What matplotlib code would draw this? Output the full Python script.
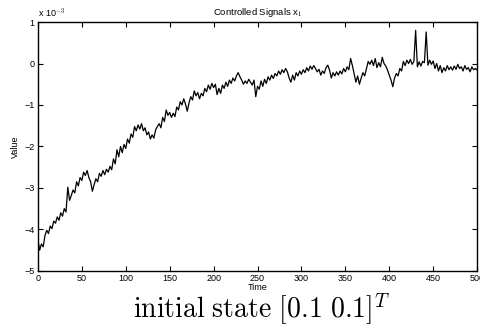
import numpy as np
import matplotlib.pyplot as plt

plt.rcParams['font.family'] = ['Liberation Sans', 'DejaVu Sans']
plt.rcParams['mathtext.fontset'] = 'cm'

# controlled signal x1, values in units of 1e-3, sampled every 2 time steps
time = np.arange(0, 501, 2)
x1 = [
    -4.25, -4.50, -4.35, -4.42, -4.15, -4.02, -4.10, -3.92, -3.98, -3.80,
    -3.85, -3.70, -3.78, -3.60, -3.68, -3.50, -3.58, -2.98, -3.30, -3.18,
    -3.05, -3.12, -2.85, -2.95, -2.75, -2.82, -2.62, -2.70, -2.58, -2.75,
    -2.85, -3.08, -2.92, -2.78, -2.85, -2.65, -2.72, -2.58, -2.68, -2.55,
    -2.62, -2.48, -2.56, -2.30, -2.42, -2.08, -2.25, -2.00, -2.15, -1.95,
    -2.05, -1.82, -1.92, -1.70, -1.78, -1.52, -1.62, -1.48, -1.58, -1.45,
    -1.62, -1.55, -1.72, -1.65, -1.82, -1.72, -1.80, -1.60, -1.52, -1.45,
    -1.55, -1.30, -1.40, -1.12, -1.25, -1.18, -1.30, -1.20, -1.28, -1.05,
    -1.12, -0.92, -1.00, -0.85, -0.98, -1.15, -0.95, -0.80, -0.88, -0.66,
    -0.78, -0.70, -0.85, -0.72, -0.78, -0.60, -0.68, -0.52, -0.62, -0.48,
    -0.58, -0.50, -0.75, -0.60, -0.72, -0.52, -0.60, -0.45, -0.55, -0.40,
    -0.48, -0.35, -0.42, -0.30, -0.22, -0.32, -0.40, -0.50, -0.42, -0.48,
    -0.38, -0.45, -0.52, -0.40, -0.80, -0.55, -0.62, -0.42, -0.55, -0.38,
    -0.48, -0.32, -0.40, -0.28, -0.36, -0.24, -0.30, -0.18, -0.26, -0.15,
    -0.22, -0.12, -0.20, -0.35, -0.45, -0.28, -0.40, -0.22, -0.30, -0.18,
    -0.26, -0.15, -0.22, -0.10, -0.18, -0.06, -0.14, -0.05, -0.12, -0.20,
    -0.14, -0.28, -0.18, -0.24, -0.10, -0.04, -0.16, -0.35, -0.22, -0.30,
    -0.20, -0.28, -0.18, -0.25, -0.12, -0.20, -0.08, -0.15, 0.12, -0.05,
    -0.25, -0.45, -0.30, -0.50, -0.35, -0.22, -0.30, -0.12, 0.05, -0.02,
    0.08, -0.05, 0.12, -0.10, 0.02, -0.08, 0.15, 0.00, -0.06, -0.16,
    -0.28, -0.40, -0.56, -0.35, -0.24, -0.30, -0.12, -0.18, 0.05, -0.05,
    0.08, 0.00, 0.10, -0.02, 0.05, 0.80, -0.08, 0.04, -0.06, 0.05,
    0.02, 0.76, -0.04, 0.08, -0.02, 0.06, -0.12, 0.00, -0.18, -0.05,
    -0.22, -0.10, -0.18, -0.05, -0.15, -0.08, -0.16, -0.06, -0.14, -0.02,
    -0.12, -0.08, -0.18, -0.05, -0.14, -0.10, -0.20, -0.08, -0.15, -0.12,
    -0.16,
]
xticks = np.arange(0, 501, 50)
yticks = np.arange(-5, 2, 1)

fig = plt.figure(figsize=(4.8, 3.34), dpi=100)
ax = fig.add_axes([0.079, 0.189, 0.915, 0.745])
ax.plot(time, x1, color='black', lw=0.9)
ax.set_xlim(0, 500)
ax.set_ylim(-5, 1)
ax.set_xticks(xticks)
ax.set_yticks(yticks)
ax.set_yticklabels([f"\u2212{-v}" if v < 0 else str(v) for v in yticks])
ax.tick_params(direction='in', length=3.5, width=0.8, labelsize=6.5,
               top=True, right=True, pad=2.5)
for s in ax.spines.values():
    s.set_linewidth(1.0)
ax.set_xlabel("Time", fontsize=6.5, labelpad=0)
ax.set_ylabel("Value", fontsize=6.5, labelpad=3)
ax.set_title("Controlled Signals x$_1$", fontsize=6.8, pad=5)
ax.text(0.0, 1.01, r"x 10$^{-3}$", transform=ax.transAxes, fontsize=6.5,
        ha='left', va='bottom')

fig.text(0.545, 0.072, r"$\mathrm{initial\ state}\ [0.1\ 0.1]^T$",
         fontsize=20, ha='center', va='center')

fig.savefig("out.png", dpi=100)
